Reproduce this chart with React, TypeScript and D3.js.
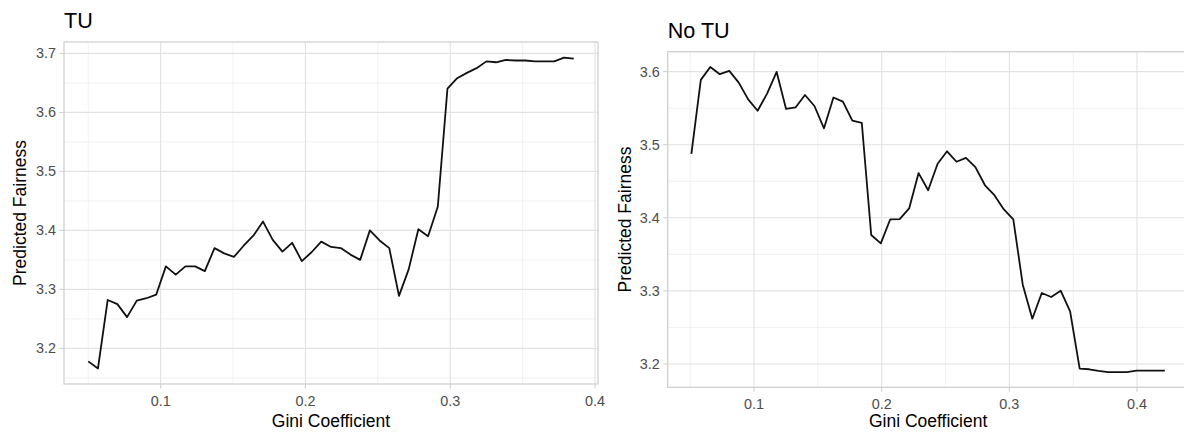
import React from "react";
import * as d3 from "d3";

const tuGini = [0.0500,0.0567,0.0634,0.0701,0.0768,0.0835,0.0902,0.0969,0.1036,0.1104,0.1171,0.1238,0.1305,0.1372,0.1439,0.1506,0.1573,0.1640,0.1707,0.1774,0.1841,0.1908,0.1975,0.2042,0.2109,0.2177,0.2244,0.2311,0.2378,0.2445,0.2512,0.2579,0.2646,0.2713,0.2780,0.2847,0.2914,0.2981,0.3048,0.3115,0.3182,0.3250,0.3317,0.3384,0.3451,0.3518,0.3585,0.3652,0.3719,0.3786,0.3853];
const tuFairness = [3.178,3.166,3.282,3.275,3.253,3.281,3.285,3.291,3.339,3.325,3.339,3.339,3.331,3.370,3.361,3.355,3.374,3.391,3.415,3.384,3.364,3.379,3.348,3.363,3.381,3.372,3.370,3.359,3.350,3.400,3.383,3.370,3.289,3.334,3.402,3.390,3.440,3.6405,3.658,3.667,3.675,3.6865,3.685,3.689,3.688,3.688,3.6865,3.6865,3.6865,3.693,3.691];

const noTuGini = [0.0509,0.0583,0.0657,0.0732,0.0806,0.0880,0.0954,0.1028,0.1102,0.1177,0.1251,0.1325,0.1399,0.1473,0.1548,0.1622,0.1696,0.1770,0.1844,0.1918,0.1993,0.2067,0.2141,0.2215,0.2289,0.2364,0.2438,0.2512,0.2586,0.2660,0.2734,0.2809,0.2883,0.2957,0.3031,0.3105,0.3180,0.3254,0.3328,0.3402,0.3476,0.3551,0.3625,0.3699,0.3773,0.3847,0.3921,0.3996,0.4070,0.4144,0.4218];
const noTuFairness = [3.4876,3.5887,3.6064,3.5965,3.601,3.585,3.562,3.5465,3.570,3.5996,3.549,3.551,3.568,3.553,3.5225,3.5646,3.559,3.533,3.530,3.3765,3.365,3.398,3.3982,3.4128,3.4612,3.4377,3.474,3.491,3.4767,3.482,3.4694,3.4445,3.431,3.4114,3.398,3.3085,3.262,3.2971,3.2917,3.3003,3.272,3.1937,3.1928,3.1905,3.189,3.189,3.189,3.191,3.191,3.191,3.191];

const xTicks = [0.1, 0.2, 0.3, 0.4];
const xMinorTicks = [0.05, 0.15, 0.25, 0.35, 0.45];
const tuYTicks = [3.2, 3.3, 3.4, 3.5, 3.6, 3.7];
const noTuYTicks = [3.2, 3.3, 3.4, 3.5, 3.6];
const yMinorTicks = [3.15, 3.25, 3.35, 3.45, 3.55, 3.65, 3.75];

const FONT = "'Liberation Sans', Arial, Helvetica, sans-serif";

function expand(ext: [number, number]): [number, number] {
  const r = ext[1] - ext[0];
  return [ext[0] - r * 0.05, ext[1] + r * 0.05];
}

type PanelProps = {
  title: string;
  xs: number[];
  ys: number[];
  yTicks: number[];
  left: number;
  right: number;
  top: number;
  bottom: number;
  titleY: number;
  yTitleX: number;
};

function Panel({ title, xs, ys, yTicks, left, right, top, bottom, titleY, yTitleX }: PanelProps) {
  const x = d3.scaleLinear().domain(expand(d3.extent(xs) as [number, number])).range([left, right]);
  const y = d3.scaleLinear().domain(expand(d3.extent(ys) as [number, number])).range([bottom, top]);
  const [x0, x1] = x.domain();
  const [y0, y1] = y.domain();
  const pts = xs.map((v, i) => [v, ys[i]] as [number, number]);
  const line = d3.line<[number, number]>().x((d) => x(d[0])).y((d) => y(d[1]));
  const inX = (v: number) => v >= x0 && v <= x1;
  const inY = (v: number) => v >= y0 && v <= y1;
  const cx = (left + right) / 2;
  const cy = (top + bottom) / 2;
  return (
    <g>
      <text x={left} y={titleY} fontSize={21.6} fill="#000" fontFamily={FONT}>{title}</text>
      {xMinorTicks.filter(inX).map((t) => (
        <line key={"xm" + t} x1={x(t)} x2={x(t)} y1={top} y2={bottom} stroke="#ededed" strokeWidth={0.8} />
      ))}
      {yMinorTicks.filter(inY).map((t) => (
        <line key={"ym" + t} x1={left} x2={right} y1={y(t)} y2={y(t)} stroke="#ededed" strokeWidth={0.8} />
      ))}
      {xTicks.filter(inX).map((t) => (
        <line key={"xg" + t} x1={x(t)} x2={x(t)} y1={top} y2={bottom} stroke="#e2e2e2" strokeWidth={1.1} />
      ))}
      {yTicks.map((t) => (
        <line key={"yg" + t} x1={left} x2={right} y1={y(t)} y2={y(t)} stroke="#e2e2e2" strokeWidth={1.1} />
      ))}
      <path d={line(pts) || ""} fill="none" stroke="#111" strokeWidth={1.8} strokeLinejoin="round" />
      <rect x={left} y={top} width={right - left} height={bottom - top} fill="none" stroke="#cdcdcd" strokeWidth={1.2} />
      {xTicks.filter(inX).map((t) => (
        <g key={"xt" + t}>
          <line x1={x(t)} x2={x(t)} y1={bottom} y2={bottom + 4.5} stroke="#cdcdcd" strokeWidth={1} />
          <text x={x(t)} y={bottom + 21.5} textAnchor="middle" fontSize={14.4} fill="#4d4d4d" fontFamily={FONT}>{d3.format(".1f")(t)}</text>
        </g>
      ))}
      {yTicks.map((t) => (
        <g key={"yt" + t}>
          <line x1={left - 4.5} x2={left} y1={y(t)} y2={y(t)} stroke="#cdcdcd" strokeWidth={1} />
          <text x={left - 8} y={y(t)} dy="0.35em" textAnchor="end" fontSize={14.4} fill="#4d4d4d" fontFamily={FONT}>{d3.format(".1f")(t)}</text>
        </g>
      ))}
      <text x={cx} y={426.5} textAnchor="middle" fontSize={17.5} fill="#000" fontFamily={FONT}>Gini Coefficient</text>
      <text transform={`translate(${yTitleX},${cy}) rotate(-90)`} textAnchor="middle" fontSize={17.5} fill="#000" fontFamily={FONT}>Predicted Fairness</text>
    </g>
  );
}

export default function App() {
  return (
    <svg width={1184} height={432} style={{ position: "absolute", left: 0, top: 0, background: "#fff" }}>
      <rect x={0} y={0} width={1184} height={432} fill="#fff" />
      <Panel title="TU" xs={tuGini} ys={tuFairness} yTicks={tuYTicks} left={64} right={598} top={42} bottom={384} titleY={27.5} yTitleX={25.5} />
      <Panel title="No TU" xs={noTuGini} ys={noTuFairness} yTicks={noTuYTicks} left={667.7} right={1188.5} top={51.7} bottom={387.3} titleY={37.5} yTitleX={631} />
    </svg>
  );
}
